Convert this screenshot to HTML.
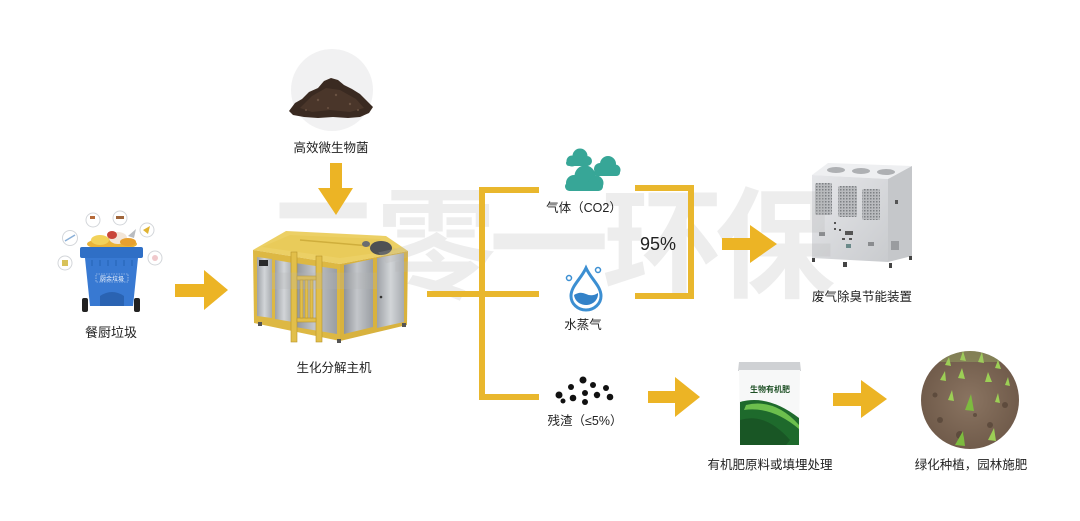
<!DOCTYPE html>
<html><head><meta charset="utf-8"><style>
html,body{margin:0;padding:0;background:#fff;}
svg{display:block;}
text{font-family:"Liberation Sans","Noto Sans CJK SC",sans-serif;}
</style></head><body>
<svg width="1080" height="521" viewBox="0 0 1080 521" xmlns="http://www.w3.org/2000/svg">
<defs>
<linearGradient id="gp" x1="0" y1="0" x2="1" y2="0">
<stop offset="0" stop-color="#9ea2a7"/><stop offset="0.5" stop-color="#d2d5d8"/><stop offset="1" stop-color="#a7abaf"/>
</linearGradient>
<linearGradient id="gp2" x1="0" y1="0" x2="1" y2="0">
<stop offset="0" stop-color="#8f9398"/><stop offset="0.45" stop-color="#c3c6ca"/><stop offset="1" stop-color="#9a9ea3"/>
</linearGradient>
<linearGradient id="gd" x1="0" y1="0" x2="1" y2="1">
<stop offset="0" stop-color="#e6e7ea"/><stop offset="1" stop-color="#c9cbce"/>
</linearGradient>
<pattern id="mesh" width="3" height="3" patternUnits="userSpaceOnUse">
<rect width="3" height="3" fill="#b9bbbe"/><rect width="1.5" height="1.5" fill="#7d8084"/>
</pattern>
<radialGradient id="soil" cx="0.5" cy="0.5" r="0.6">
<stop offset="0" stop-color="#8a7461"/><stop offset="1" stop-color="#6b5646"/>
</radialGradient>
<clipPath id="fc"><circle cx="970" cy="400" r="49"/></clipPath>
</defs>
<rect width="1080" height="521" fill="#fff"/>

<!-- soil circle -->
<circle cx="332" cy="90" r="41" fill="#f1f1f2"/>
<path d="M289,111 L295,103 L302,99 L309,92 L318,88 L324,81 L331,78 L338,80 L344,85 L352,89 L360,94 L366,100 L373,107 L369,113 L360,117 L348,118 L333,117 L318,118 L304,117 L293,115 Z" fill="#3a2a21"/>
<path d="M300,108 L312,96 L326,88 L340,90 L356,99 L364,108 L350,112 L330,110 L312,112 Z" fill="#4a362a"/>
<g fill="#6a5242"><circle cx="318" cy="100" r="1.2"/><circle cx="336" cy="95" r="1.2"/><circle cx="350" cy="104" r="1.2"/><circle cx="328" cy="108" r="1"/><circle cx="306" cy="110" r="1"/><circle cx="358" cy="110" r="1"/></g>

<!-- trash bin icons -->
<g fill="#fff" stroke="#d3d6da" stroke-width="1">
<circle cx="93" cy="220" r="7"/><circle cx="120" cy="218" r="7"/><circle cx="70" cy="238" r="7.5"/>
<circle cx="147" cy="230" r="7"/><circle cx="65" cy="263" r="7"/><circle cx="155" cy="258" r="7"/>
</g>
<g>
<rect x="90" y="216" width="5" height="3" fill="#b56a3a"/><rect x="116" y="216" width="8" height="3" fill="#a0663b"/>
<line x1="65" y1="241" x2="75" y2="235" stroke="#8ab0d8" stroke-width="1.5"/>
<path d="M143,230 L150,226 L148,234 Z" fill="#e0b331"/>
<rect x="62" y="260" width="6" height="6" fill="#d8c25a"/>
<circle cx="155" cy="258" r="3" fill="#f0c9cc"/>
</g>
<!-- food pile -->
<ellipse cx="112" cy="244" rx="25" ry="6" fill="#e9b338"/>
<ellipse cx="100" cy="240" rx="9" ry="5" fill="#f2d25a"/>
<ellipse cx="118" cy="238" rx="9" ry="6" fill="#f3e6d8"/>
<ellipse cx="112" cy="235" rx="5" ry="4" fill="#c9463a"/>
<ellipse cx="128" cy="242" rx="8" ry="4" fill="#e7a02f"/>
<path d="M128,236 L136,229 L134,238 Z" fill="#b9bcc0"/>
<!-- bin -->
<rect x="80" y="247" width="63" height="11" rx="2" fill="#2f6fc6"/>
<path d="M85,258 L138,258 L133,306 L90,306 Z" fill="#3879d2"/>
<g stroke="#2562b4" stroke-width="1"><line x1="92" y1="260" x2="92" y2="266"/><line x1="100" y1="260" x2="100" y2="266"/><line x1="108" y1="260" x2="108" y2="266"/><line x1="116" y1="260" x2="116" y2="266"/><line x1="124" y1="260" x2="124" y2="266"/><line x1="132" y1="260" x2="132" y2="266"/></g>
<rect x="96" y="274" width="32" height="8" fill="none" stroke="#cfe0f5" stroke-width="0.6" stroke-dasharray="1.5,1"/>
<text x="112" y="281" font-size="6" fill="#ffffff" text-anchor="middle">厨余垃圾</text>
<path d="M100,306 L100,296 Q112,288 124,296 L124,306 Z" fill="#2a63b2"/>
<rect x="82" y="298" width="6" height="14" rx="2" fill="#222"/>
<rect x="134" y="298" width="6" height="14" rx="2" fill="#222"/>

<!-- machine -->
<polygon points="253,250 286,231 386,236 408,251 340,264" fill="#ecd065"/>
<polygon points="262,247 290,235 380,239 398,250 340,258" fill="#e9cb5a"/>
<line x1="300" y1="240" x2="370" y2="246" stroke="#cfae3c" stroke-width="1.5"/>
<polygon points="253,250 340,264 340,341 254,323" fill="#ddb843"/>
<polygon points="340,264 408,251 407,325 340,341" fill="#d8b23e"/>
<polygon points="257,257 272,259 272,318 257,316" fill="url(#gp)"/>
<polygon points="275,260 293,263 293,322 275,319" fill="url(#gp)"/>
<polygon points="295,263 337,269 337,334 295,327" fill="url(#gp2)"/>
<polygon points="344,265 373,259 373,327 344,334" fill="url(#gp2)"/>
<polygon points="377,258 404,253 404,322 377,328" fill="url(#gp)"/>
<rect x="259" y="260" width="9" height="6" fill="#2a2a2a"/>
<circle cx="381" cy="297" r="1.3" fill="#333"/>
<!-- ladder -->
<g fill="#e2bf4a" stroke="#b8942a" stroke-width="0.6">
<rect x="291" y="252" width="6" height="90"/>
<rect x="316" y="256" width="6" height="86"/>
<rect x="297" y="276" width="19" height="4"/>
<rect x="297" y="318" width="19" height="4"/>
<rect x="300" y="280" width="3" height="38"/>
<rect x="305" y="280" width="3" height="38"/>
<rect x="310" y="280" width="3" height="38"/>
</g>
<ellipse cx="381" cy="248" rx="11" ry="7" fill="#4e5154"/>
<ellipse cx="366" cy="244" rx="4" ry="3" fill="#6a6d70"/>
<g fill="#555"><rect x="258" y="322" width="4" height="4"/><rect x="337" y="339" width="4" height="4"/><rect x="402" y="323" width="4" height="4"/></g>

<!-- dryer -->
<polygon points="812,175 828,163 912,166 888,179" fill="#eeeff1"/>
<ellipse cx="836" cy="170" rx="9" ry="3" fill="#aeb0b3"/>
<ellipse cx="861" cy="171" rx="9" ry="3" fill="#aeb0b3"/>
<ellipse cx="886" cy="172" rx="9" ry="3" fill="#aeb0b3"/>
<polygon points="812,175 888,179 888,262 812,258" fill="url(#gd)"/>
<polygon points="888,179 912,166 912,256 888,262" fill="#c5c7ca"/>
<rect x="815" y="183" width="17" height="32" rx="2" fill="url(#mesh)"/>
<rect x="838" y="186" width="19" height="31" rx="2" fill="url(#mesh)"/>
<rect x="862" y="189" width="18" height="31" rx="2" fill="url(#mesh)"/>
<g fill="#555"><rect x="834" y="222" width="2" height="2"/><rect x="834" y="228" width="2" height="2"/><rect x="839" y="229" width="2" height="2"/><rect x="845" y="231" width="8" height="4"/><rect x="842" y="238" width="3" height="2"/><rect x="849" y="238" width="3" height="2"/><rect x="819" y="232" width="6" height="4" fill="#8a8c8f"/><rect x="868" y="242" width="6" height="4" fill="#8a8c8f"/><rect x="846" y="244" width="5" height="4" fill="#6b8a8a"/><rect x="895" y="200" width="3" height="4"/><rect x="891" y="241" width="8" height="9" fill="#9a9c9f"/></g>
<g fill="#444"><rect x="812" y="258" width="3" height="4"/><rect x="843" y="262" width="4" height="5"/><rect x="889" y="263" width="3" height="5"/><rect x="909" y="256" width="3" height="4"/></g>

<!-- fertilizer bag -->
<path d="M739,362 L800,362 L801,371 L738,371 Z" fill="#cfd1d4"/>
<path d="M739,370 L800,370 L799,445 L740,445 Z" fill="#f7f8f8"/>
<path d="M740,402 Q768,394 799,418 L799,445 L740,445 Z" fill="#1e6a2c"/>
<path d="M746,405 Q775,398 799,425 L799,429 Q772,406 744,410 Z" fill="#6cbf4d"/>
<path d="M740,420 Q765,412 790,440 L786,445 L740,445 Z" fill="#174f22" opacity="0.7"/>
<text x="770" y="392" font-size="8" font-weight="700" fill="#1d4f24" text-anchor="middle">生物有机肥</text>

<!-- field circle -->
<g clip-path="url(#fc)">
<rect x="920" y="350" width="100" height="100" fill="url(#soil)"/>
<g fill="#4e3d31" opacity="0.6"><circle cx="940" cy="420" r="3"/><circle cx="960" cy="435" r="4"/><circle cx="990" cy="425" r="3"/><circle cx="1005" cy="405" r="3"/><circle cx="935" cy="395" r="2.5"/><circle cx="975" cy="415" r="2"/></g>
<g fill="#9ccf55">
<path d="M945,365 l4,-8 l2,9 z"/><path d="M960,360 l3,-9 l3,10 z"/><path d="M978,362 l4,-10 l2,11 z"/><path d="M995,368 l3,-8 l3,9 z"/>
<path d="M940,380 l5,-9 l1,10 z"/><path d="M958,378 l4,-10 l3,11 z"/><path d="M985,382 l3,-10 l4,10 z"/><path d="M1005,385 l3,-8 l2,9 z"/>
<path d="M965,410 l6,-16 l3,17 z" fill="#7dbb3f"/><path d="M948,400 l4,-10 l2,11 z"/><path d="M995,402 l3,-9 l2,10 z"/>
<path d="M955,445 l8,-14 l2,15 z" fill="#7dbb3f"/><path d="M988,440 l6,-12 l2,13 z"/>
</g>
<rect x="920" y="350" width="100" height="12" fill="#a2c36b" opacity="0.35"/>
</g>

<!-- watermark -->
<text x="263" y="288" font-size="120" font-weight="700" fill="#b4b4b4" fill-opacity="0.24" letter-spacing="-7" style="font-family:'Noto Sans CJK SC',sans-serif">二零一环保</text>

<!-- connectors -->
<g stroke="#e9b72d" stroke-width="6" fill="none" stroke-linecap="butt">
<line x1="427" y1="294" x2="539" y2="294"/>
<line x1="482" y1="187" x2="482" y2="400"/>
<line x1="479" y1="190" x2="539" y2="190"/>
<line x1="479" y1="397" x2="539" y2="397"/>
<polyline points="635,188 691,188 691,296 635,296"/>
</g>

<!-- arrows -->
<g fill="#ecb425">
<polygon points="175,284 204,284 204,270 228,290 204,310 204,297 175,297"/>
<polygon points="330,163 342,163 342,188 353,188 336,215 318,188 330,188"/>
<polygon points="722,238 750,238 750,225 777,244 750,263 750,250 722,250"/>
<polygon points="648,391 675,391 675,377 700,397 675,417 675,403 648,403"/>
<polygon points="833,393 861,393 861,380 887,399 861,418 861,406 833,406"/>
</g>

<!-- clouds -->
<g fill="#37a697">
<circle cx="572" cy="161" r="5.5"/><circle cx="580" cy="156" r="7.5"/><circle cx="587" cy="161" r="5"/><rect x="566" y="160" width="24" height="6" rx="3"/>
<circle cx="600" cy="169" r="6"/><circle cx="608" cy="164" r="8"/><circle cx="615" cy="170" r="5.5"/><rect x="594" y="169" width="26" height="7" rx="3.5"/>
<circle cx="574" cy="183" r="8"/><circle cx="585" cy="176" r="10.5"/><circle cx="596" cy="183" r="7.5"/><rect x="565" y="182" width="38" height="9" rx="4.5"/>
</g>

<!-- water drop -->
<path d="M586,268 C581,279 571,286 571,296 A15,14 0 0 0 601,296 C601,286 591,279 586,268 Z" fill="#fff" stroke="#3c8fd2" stroke-width="3"/>
<path d="M574,295 Q580,291 586,294 Q592,297 598,293 A12,11 0 0 1 574,295 Z" fill="#3382c8"/>
<circle cx="569" cy="278" r="2.5" fill="#fff" stroke="#3c8fd2" stroke-width="1.5"/>
<circle cx="598" cy="270" r="2.5" fill="#fff" stroke="#3c8fd2" stroke-width="1.5"/>

<!-- residue dots -->
<g fill="#111">
<circle cx="583" cy="380" r="3.5"/><circle cx="571" cy="387" r="3"/><circle cx="593" cy="385" r="3"/><circle cx="606" cy="388" r="3"/>
<circle cx="559" cy="395" r="3.5"/><circle cx="573" cy="398" r="3.3"/><circle cx="585" cy="393" r="3"/><circle cx="597" cy="395" r="3.2"/><circle cx="610" cy="397" r="3.3"/>
<circle cx="563" cy="401" r="2.5"/><circle cx="585" cy="402" r="3"/>
</g>

<!-- labels -->
<g fill="#222" font-size="12.5" text-anchor="middle">
<text x="331" y="152">高效微生物菌</text>
<text x="334" y="372">生化分解主机</text>
<text x="111" y="337" font-size="13">餐厨垃圾</text>
<text x="584" y="212">气体（CO2）</text>
<text x="583" y="329">水蒸气</text>
<text x="585" y="425">残渣（≤5%）</text>
<text x="862" y="301">废气除臭节能装置</text>
<text x="770" y="469">有机肥原料或填埋处理</text>
<text x="971" y="469">绿化种植，园林施肥</text>
</g>
<text x="658" y="250" font-size="18" fill="#222" text-anchor="middle">95%</text>
</svg>
</body></html>
